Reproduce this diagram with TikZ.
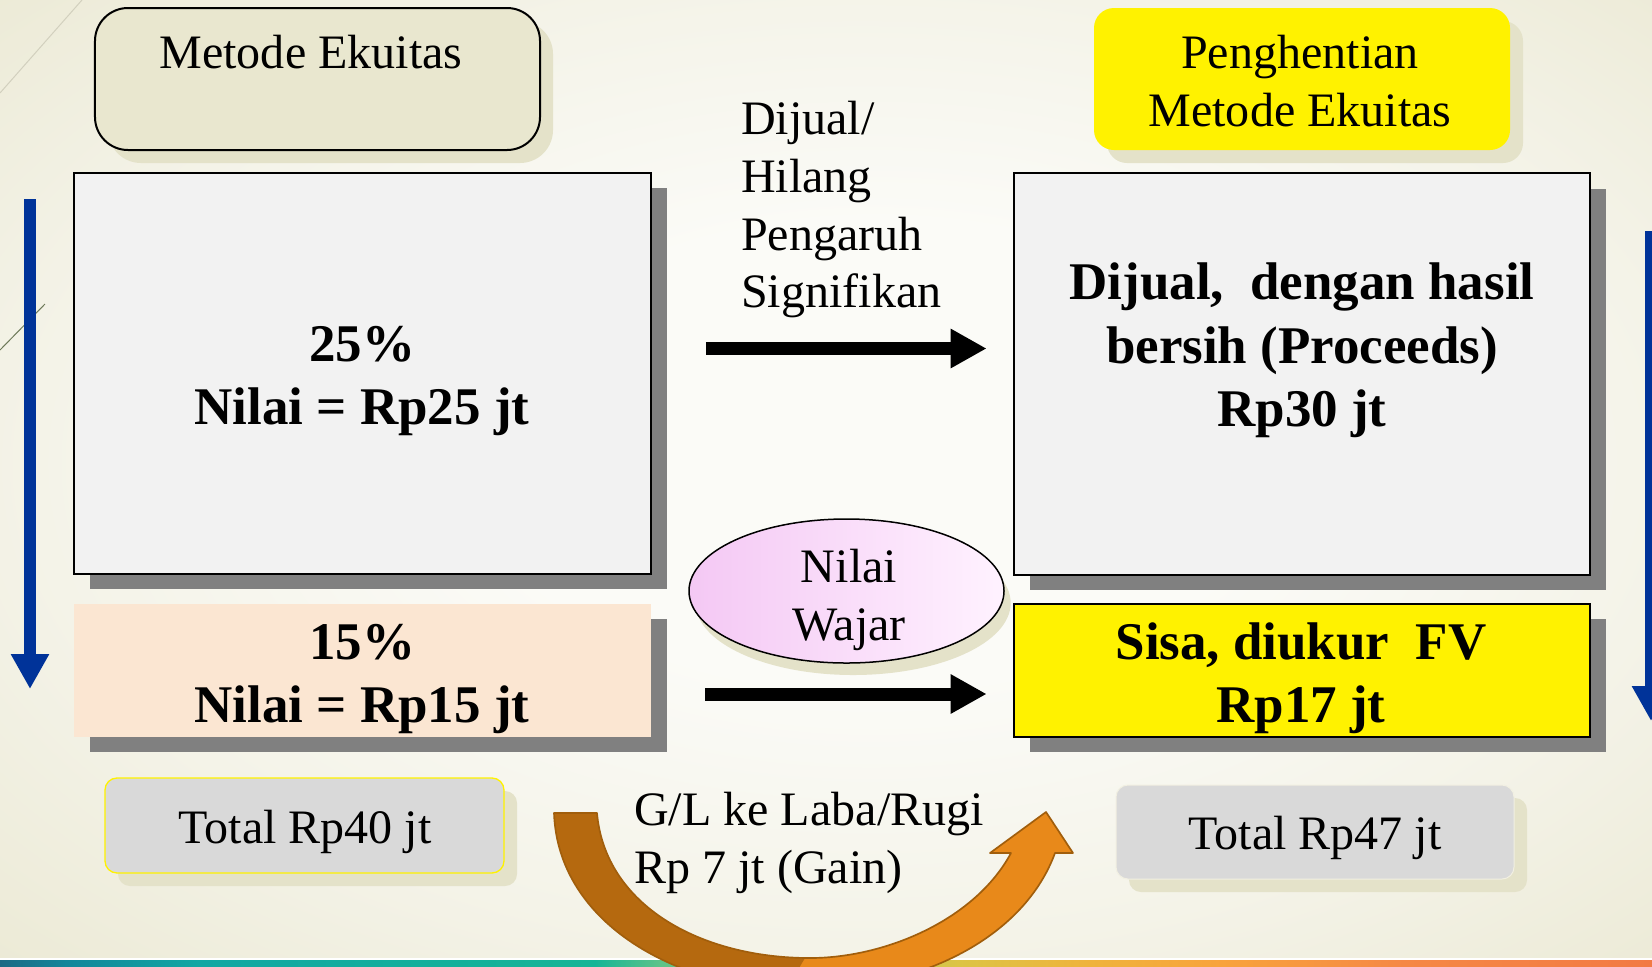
\documentclass[tikz,border=0pt]{standalone}
\usepackage{fontspec}
\setmainfont{Liberation Serif}
\usetikzlibrary{arrows.meta,shapes.geometric,shadows}

\definecolor{bgC}{HTML}{FBFBF7}
\definecolor{bgM}{HTML}{F4F3E8}
\definecolor{bgE}{HTML}{ECEAD6}
\definecolor{shgray}{HTML}{808080}
\definecolor{olsh}{HTML}{E4E2C9}
\definecolor{olfill}{HTML}{E9E7CF}
\definecolor{panelgray}{HTML}{F2F2F2}
\definecolor{peach}{HTML}{FBE6D2}
\definecolor{totgray}{HTML}{D9D9D9}
\definecolor{totedge}{HTML}{F2F0E2}
\definecolor{pk1}{HTML}{F4C8F4}
\definecolor{pk2}{HTML}{FFF2FF}
\definecolor{navy}{HTML}{003399}
\definecolor{orDark}{HTML}{B5690F}
\definecolor{orBright}{HTML}{E8891A}
\definecolor{orEdge}{HTML}{A15E0C}
\definecolor{diagA}{HTML}{D2D0BE}
\definecolor{diagB}{HTML}{6E7A5A}
\definecolor{s1}{HTML}{1B6A84}
\definecolor{s2}{HTML}{13869A}
\definecolor{s3}{HTML}{13A7A3}
\definecolor{s4}{HTML}{15B596}
\definecolor{s5}{HTML}{5DC389}
\definecolor{s6}{HTML}{A9C961}
\definecolor{s7}{HTML}{DCC445}
\definecolor{s8}{HTML}{EFB33C}
\definecolor{s9}{HTML}{F8A33C}
\definecolor{s10}{HTML}{F58845}
\definecolor{s11}{HTML}{F27A44}

% soft cream backdrop, lighter towards the middle
\pgfdeclareradialshading{bgglow}{\pgfpoint{2bp}{2bp}}{color(0bp)=(bgC); color(12bp)=(bgC); color(25bp)=(bgM); color(36bp)=(bgE); color(50bp)=(bgE)}
% coloured band along the foot of the slide
\pgfdeclarehorizontalshading{footband}{100bp}{color(0bp)=(s1); color(25bp)=(s1); color(27bp)=(s2); color(31bp)=(s3); color(43bp)=(s4); color(45bp)=(s5); color(50bp)=(s6); color(54bp)=(s7); color(58bp)=(s8); color(62bp)=(s9); color(67.5bp)=(s10); color(75bp)=(s11); color(100bp)=(s11)}

\begin{document}
\begin{tikzpicture}[x=0.03cm,y=-0.03cm,
  reg/.style={font=\fontsize{41}{49.5}\selectfont, inner sep=0pt},
  bld/.style={font=\fontsize{45.2}{54.6}\selectfont\bfseries, inner sep=0pt, align=center},
  gshadow/.style={general shadow={fill=shgray, shadow xshift=0.48cm, shadow yshift=-0.45cm}},
  oshadow/.style={general shadow={fill=olsh, shadow xshift=0.39cm, shadow yshift=-0.39cm}},
  panel/.style={rectangle, draw=black, line width=0.06cm, fill=panelgray,
    minimum width=17.3cm, minimum height=12.03cm, inner sep=0pt, gshadow},
  band/.style={rectangle, minimum width=17.3cm, minimum height=3.99cm, inner sep=0pt, gshadow},
  totbox/.style={rectangle, rounded corners=0.36cm, fill=totgray, inner sep=0pt, oshadow},
  flow/.style={line width=0.39cm, -{Triangle[length=1.08cm,width=1.11cm]}},
  down/.style={navy, line width=0.36cm, -{Triangle[length=1.05cm,width=1.08cm]}}
]
\useasboundingbox (0,0) rectangle (1652,966);
\clip (0,0) rectangle (1652,966);

% background
\shade[shading=bgglow] (0,0) rectangle (1652,966);

% faint diagonal strokes at the left edge
\draw[diagA, line width=0.03cm] (0,93) -- (82,0);
\draw[diagB, line width=0.03cm] (0,350) -- (45,304);

% downward flow arrows at both edges
\coordinate (lt) at (30,199);  \coordinate (lb) at (30,689);
\coordinate (rt) at (1651,231); \coordinate (rb) at (1651,721);
\draw[down] (lt) -- (lb);
\draw[down] (rt) -- (rb);

% headers
\node[rectangle, rounded corners=0.99cm, draw=black, line width=0.06cm, fill=olfill,
  minimum width=13.35cm, minimum height=4.26cm, inner sep=0pt, oshadow] (bME) at (317.5,79) {};
\node[reg, anchor=base] (tME) at (311,68) {Metode Ekuitas};

\node[rectangle, rounded corners=0.6cm, fill=yellow,
  minimum width=12.48cm, minimum height=4.26cm, inner sep=0pt, oshadow] (bPM) at (1302,79) {};
\node[reg, align=center] (tPM) at (1300,85.4) {\strut Penghentian\\\strut Metode Ekuitas};

% panels
\node[panel] (bL) at (362.5,373.5) {};
\node[panel] (bR) at (1302,374) {};
\node[band, fill=peach] (bP) at (362.5,670.5) {};
\node[band, fill=yellow, draw=black, line width=0.06cm] (bS) at (1302,670.5) {};

\node[bld] (t25) at (362,380.2) {\strut 25\%\\\strut Nilai = Rp25 jt};
\node[bld] (tPr) at (1302,350.2) {\strut Dijual,\ \ dengan hasil\\\strut bersih (Proceeds)\\\strut Rp30 jt};
\node[bld] (t15) at (362,678.2) {\strut 15\%\\\strut Nilai = Rp15 jt};
\node[bld] (tSi) at (1301,678.2) {\strut Sisa, diukur\ \ FV\\\strut Rp17 jt};

% label of the upper transfer
\node[reg, align=left, anchor=west] (tDj) at (741,209.4)
  {\strut Dijual/\\\strut Hilang\\\strut Pengaruh\\\strut Signifikan};

% fair value ellipse
\node[ellipse, draw=black, line width=0.045cm, left color=pk1, right color=pk2,
  minimum width=9.45cm, minimum height=4.32cm, inner sep=0pt,
  general shadow={fill=olsh, shadow xshift=0.2cm, shadow yshift=-0.36cm}] (eW) at (846.5,591) {};
\node[reg, align=center] (tW) at (849,599.4) {\strut Nilai\\\strut Wajar};

% transfers between the columns
\draw[flow] ([shift={(54,-25)}]bL.east) -- ([shift={(-26,-25.5)}]bR.west);
\draw[flow] ([shift={(54,23.5)}]bP.east) -- ([shift={(-26,23.5)}]bS.west);

% totals
\node[totbox, draw=yellow, line width=0.04cm, minimum width=11.97cm, minimum height=2.85cm] (b40) at (304.5,825.5) {};
\node[reg, anchor=base] (t40) at (305,843) {Total Rp40 jt};
\node[totbox, draw=totedge, line width=0.03cm, minimum width=11.94cm, minimum height=2.82cm] (b47) at (1315,832) {};
\node[reg, anchor=base] (t47) at (1315,849) {Total Rp47 jt};

% gain label
\node[reg, align=left, anchor=west] (tGL) at (634,842.4)
  {\strut G/L ke Laba/Rugi\\\strut Rp 7 jt (Gain)};

% coloured band along the foot
\draw[white, line width=0.06cm] (0,958.5) -- (1652,958.5);
\shade[shading=footband] (0,960) rectangle (1652,966);

% curved block arrow carrying the gain across
\def\gainpath{(554,813) -- (597,813)
  .. controls (605,905) and (700,958) .. (810,958)
  .. controls (885,958) and (975,920) .. (1011,853)
  -- (990,853) -- (1046,812) -- (1073,853) -- (1055,853)
  .. controls (1025,935) and (925,990) .. (800,990)
  .. controls (680,990) and (558,925) .. (554,813) -- cycle}
\fill[orBright] \gainpath;
\begin{scope}
  \clip (0,700) -- (805,700) -- (805,958) -- (780,1000) -- (0,1000) -- cycle;
  \fill[orDark] \gainpath;
\end{scope}
\draw[orEdge, line width=0.05cm, line join=round] \gainpath;
\end{tikzpicture}
\end{document}
